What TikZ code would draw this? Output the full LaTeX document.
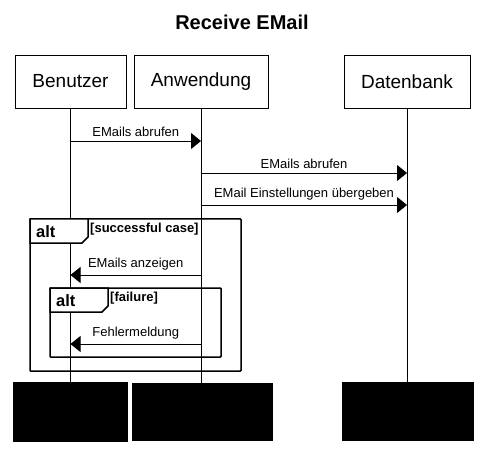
\documentclass[tikz,border=0pt]{standalone}
\usepackage{fontspec}
\setmainfont{Liberation Sans}
\usetikzlibrary{arrows.meta}
\begin{document}
\begin{tikzpicture}[x=1pt,y=-1pt,
  head/.style={draw, line width=0.8pt, fill=white, inner sep=0pt, minimum height=53pt, font=\fontsize{19}{22}\selectfont},
  foot/.style={draw, fill=black, inner sep=0pt},
  life/.style={line width=0.8pt},
  msg/.style={line width=0.8pt, -{Triangle[length=10pt,width=16pt]}},
  mlabel/.style={font=\fontsize{13}{15}\selectfont, inner sep=0pt, above=4pt},
  frame/.style={line width=1.5pt, rounded corners=0.8pt},
  tab/.style={line width=1.5pt, fill=white},
  tabtext/.style={font=\bfseries\fontsize{16.5}{18}\selectfont, inner sep=0pt, anchor=west},
  cond/.style={font=\bfseries\fontsize{13}{15}\selectfont, inner sep=0pt, anchor=west}
]
\useasboundingbox (0,0) rectangle (484,462);
\node[font=\bfseries\fontsize{20}{24}\selectfont] (title) at (242,22) {Receive EMail};

\node[head, minimum width=111pt] (hB) at (70.5,81.5) {Benutzer};
\node[head, minimum width=134pt] (hA) at (201,81.5) {Anwendung};
\node[head, minimum width=126pt] (hD) at (407,81.5) {Datenbank};

\node[foot, minimum width=114pt, minimum height=59pt] (fB) at (70,411.5) {};
\node[foot, minimum width=140pt, minimum height=57pt] (fA) at (202,411.5) {};
\node[foot, minimum width=131pt, minimum height=58pt] (fD) at (407.5,411) {};

\draw[life] (hB.south) -- (hB.south |- fB.north);
\draw[life] (hA.south) -- (hA.south |- fA.north);
\draw[life] (hD.south) -- (hD.south |- fD.north);

% messages
\draw[msg] (hB.south |- 0,141) -- (hA.south |- 0,141) node[midway, mlabel] (l1) {EMails abrufen};
\draw[msg] (hA.south |- 0,173) -- (hD.south |- 0,173) node[midway, mlabel] (l2) {EMails abrufen};
\draw[msg] (hA.south |- 0,205) -- (hD.south |- 0,205) node[midway, mlabel] (l3) {EMail Einstellungen übergeben};
\draw[msg] (hA.south |- 0,275) -- (hB.south |- 0,275) node[midway, mlabel] (l4) {EMails anzeigen};
\draw[msg] (hA.south |- 0,344) -- (hB.south |- 0,344) node[midway, mlabel] (l5) {Fehlermeldung};

% outer alt frame
\draw[frame] (30,219) rectangle (241,371);
\draw[tab] (30,219) -- (88,219) -- (88,237) -- (82,243) -- (30,243) -- cycle;
\node[tabtext] (alt1) at (36,231.5) {alt};
\node[cond] (c1) at (90,229) {[successful case]};

% inner alt frame
\draw[frame] (50,288) rectangle (221,357);
\draw[tab] (50,288) -- (108,288) -- (108,306) -- (102,312) -- (50,312) -- cycle;
\node[tabtext] (alt2) at (56,300.5) {alt};
\node[cond] (c2) at (110,298) {[failure]};
\end{tikzpicture}
\end{document}
